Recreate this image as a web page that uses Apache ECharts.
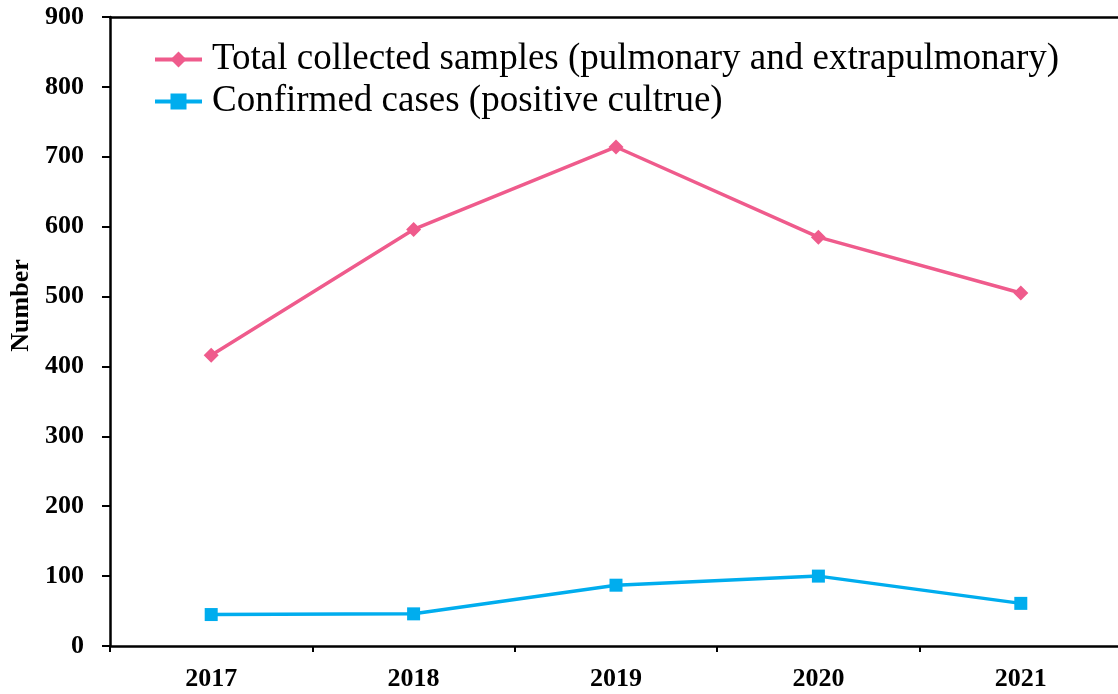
<!DOCTYPE html>
<html>
<head>
<meta charset="utf-8">
<script src="https://cdn.jsdelivr.net/npm/echarts@6/dist/echarts.min.js"></script>
<style>html,body{margin:0;padding:0;background:#fff;overflow:hidden;width:1118px;height:694px}#c{width:1122px;height:694px}</style>
</head>
<body>
<div id="c"></div>
<script>
const categories = ['2017', '2018', '2019', '2020', '2021'];
const totalSamples = [416, 596, 714, 585, 505];
const confirmedCases = [45, 46, 87, 100, 61];
const seriesNames = ['Total collected samples (pulmonary and extrapulmonary)', 'Confirmed cases (positive cultrue)'];

const chart = echarts.init(document.getElementById('c'), null, {renderer: 'canvas'});
const serif = '"Liberation Serif", "Times New Roman", serif';
chart.setOption({
  animation: false,
  backgroundColor: '#fff',
  grid: {left: 110, top: 17, right: 0, bottom: 48, containLabel: false},
  legend: {
    orient: 'vertical',
    left: 148,
    top: 36,
    itemWidth: 47,
    itemHeight: 20,
    itemGap: 5,
    textStyle: {fontFamily: serif, fontSize: 37, color: '#000', padding: [0, 0, 0, 5]},
    lineStyle: {width: 4},
    data: seriesNames
  },
  xAxis: [{
    type: 'category',
    data: categories,
    boundaryGap: true,
    axisLine: {lineStyle: {color: '#000', width: 2.5}},
    axisTick: {show: true, length: 6, lineStyle: {color: '#000', width: 2}},
    axisLabel: {fontFamily: serif, fontSize: 26, fontWeight: 'bold', color: '#000', margin: 20},
    splitLine: {show: false}
  }, {
    type: 'category',
    data: categories,
    position: 'top',
    axisLine: {show: true, lineStyle: {color: '#000', width: 2.5}},
    axisTick: {show: false},
    axisLabel: {show: false}
  }],
  yAxis: {
    type: 'value',
    min: 0, max: 900, interval: 100,
    name: 'Number',
    nameLocation: 'middle',
    nameGap: 75,
    nameRotate: 90,
    nameTextStyle: {fontFamily: serif, fontSize: 26, fontWeight: 'bold', color: '#000', padding: [0, 0, 0, 52]},
    axisLine: {show: true, lineStyle: {color: '#000', width: 2.5}},
    axisTick: {show: true, length: 8, lineStyle: {color: '#000', width: 2}},
    axisLabel: {fontFamily: serif, fontSize: 26, fontWeight: 'bold', color: '#000', margin: 26},
    splitLine: {show: false}
  },
  series: [{
    name: seriesNames[0],
    type: 'line',
    data: totalSamples,
    symbol: 'diamond',
    symbolSize: 15,
    itemStyle: {color: '#EF5B8C'},
    lineStyle: {color: '#EF5B8C', width: 3.5}
  }, {
    name: seriesNames[1],
    type: 'line',
    data: confirmedCases,
    symbol: 'rect',
    symbolSize: 13,
    itemStyle: {color: '#00ADEE'},
    lineStyle: {color: '#00ADEE', width: 3.5}
  }]
});
</script>
</body>
</html>
